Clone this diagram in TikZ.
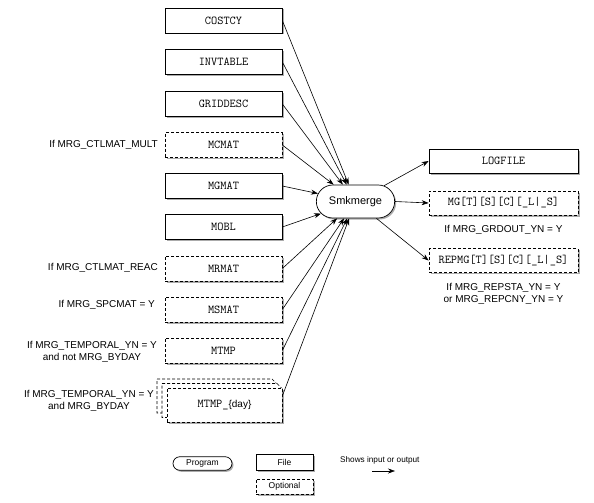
\documentclass[tikz,border=0pt]{standalone}
\usepackage{fontspec}
\setmainfont{Liberation Sans}
\usetikzlibrary{shapes.misc,shadows,arrows.meta,calc}
\tikzset{
  shad/.style={drop shadow={shadow xshift=1.5pt, shadow yshift=-1.5pt, fill=black!55, opacity=0.6}},
  filebox/.style={draw, line width=0.7pt, fill=white, minimum width=117pt, minimum height=25pt,
    inner sep=0pt, font=\fontsize{12}{13}\ttfamily, shad},
  outbox/.style={filebox, minimum width=149pt, minimum height=24pt},
  dsh/.style={dash pattern=on 3pt off 2pt},
  lbl/.style={font=\fontsize{10}{12}\selectfont, align=center, inner sep=0pt},
  arr/.style={-{Stealth[length=7pt,width=5pt]}, line width=0.6pt},
  page/.style={draw, line width=0.7pt, fill=white, dsh},
}
\begin{document}
\begin{tikzpicture}[x=1pt,y=-1pt]
\useasboundingbox (0,0) rectangle (594,503);
% input files
\node[filebox] (costcy) at (223.5,20.5) {COSTCY};
\node[filebox] (invtable) at (223.5,62) {INVTABLE};
\node[filebox] (griddesc) at (223.5,104) {GRIDDESC};
\node[filebox,dsh] (mcmat) at (223.5,145) {MCMAT};
\node[filebox] (mgmat) at (223.5,186) {MGMAT};
\node[filebox] (mobl) at (223.5,227) {MOBL};
\node[filebox,dsh] (mrmat) at (223.5,268.5) {MRMAT};
\node[filebox,dsh] (msmat) at (223.5,309.5) {MSMAT};
\node[filebox,dsh] (mtmp) at (223.5,350.5) {MTMP};
% stacked pages
\draw[page] (157,379) -- (272,379) -- (277,384) -- (277,413) -- (157,413) -- cycle;
\draw[page] (162,383.5) -- (277,383.5) -- (282,388.5) -- (282,417.5) -- (162,417.5) -- cycle;
\node[filebox,dsh,minimum width=115pt,minimum height=34pt] (day) at (224.5,405) {MTMP\_\rmfamily\fontsize{10}{12}\selectfont\{day\}};
% labels
\node[lbl,anchor=east] (l1) at (158,145) {If MRG\_CTLMAT\_MULT};
\node[lbl,anchor=east] (l2) at (158,267.5) {If MRG\_CTLMAT\_REAC};
\node[lbl,anchor=east] (l3) at (155,304.5) {If MRG\_SPCMAT = Y};
\node[lbl,anchor=east] (l4) at (157,352) {If MRG\_TEMPORAL\_YN = Y\\and not MRG\_BYDAY};
\node[lbl,anchor=east] (l5) at (154,401) {If MRG\_TEMPORAL\_YN = Y\\and MRG\_BYDAY};
% program
\node[draw, rounded rectangle, line width=0.7pt, fill=white, minimum width=85pt, minimum height=33pt,
  font=\fontsize{11}{13}\selectfont, shad] (smk) at (355.5,201.5) {Smkmerge};
% outputs
\node[outbox] (logfile) at (503.5,161) {LOGFILE};
\node[outbox,dsh] (mg) at (503.5,203) {MG[T][S][C][\_L|\_S]};
\node[outbox,dsh] (repmg) at (503.5,260.5) {REPMG[T][S][C][\_L|\_S]};
\node[lbl] (l6) at (503.5,230) {If MRG\_GRDOUT\_YN = Y};
\node[lbl] (l7) at (503.5,293.5) {If MRG\_REPSTA\_YN = Y\\or MRG\_REPCNY\_YN = Y};
% arrows in
\foreach \n in {costcy,invtable,griddesc,mcmat,mgmat,mobl,mrmat,msmat,mtmp}
  \draw[arr] (\n.east) -- (smk);
\draw[arr] ([yshift=9pt]day.east) -- (smk);
% arrows out
\draw[arr] (smk) -- (logfile.west);
\draw[arr] (smk.east) -- (mg.west);
\draw[arr] (smk) -- (repmg.west);
% legend
\node[draw, rounded rectangle, line width=0.7pt, fill=white, minimum width=59pt, minimum height=13.5pt,
  inner sep=0pt, font=\fontsize{8.5}{10}\selectfont, shad] (prog) at (202.5,463.5) {Program};
\node[draw, line width=0.7pt, fill=white, minimum width=57pt, minimum height=16pt, inner sep=0pt,
  font=\fontsize{8.5}{10}\selectfont, shad] (file) at (284.5,462) {File};
\node[draw, dsh, line width=0.7pt, fill=white, minimum width=57pt, minimum height=15pt, inner sep=0pt,
  font=\fontsize{8.5}{10}\selectfont, shad] (opt) at (284.5,486.5) {Optional};
\node[font=\fontsize{8.2}{10}\selectfont, inner sep=0pt, anchor=west] (shows) at (340,460.5) {Shows input or output};
\coordinate (la) at (372,471);
\coordinate (lb) at (395,471);
\draw[arr] (la) -- (lb);
\end{tikzpicture}
\end{document}
